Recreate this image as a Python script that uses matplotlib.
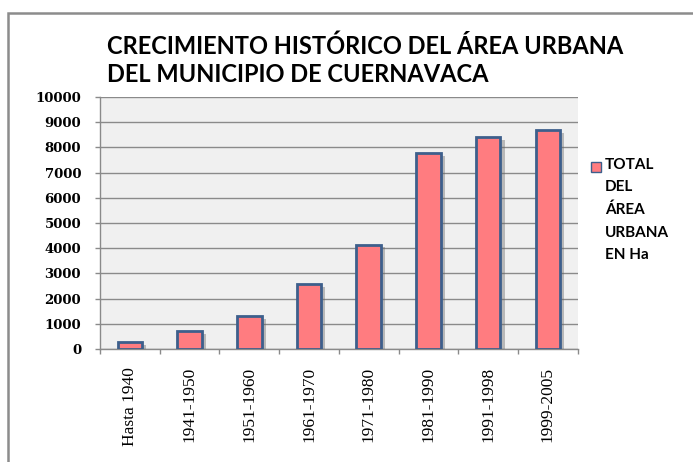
import numpy as np
import matplotlib.pyplot as plt
from matplotlib import patheffects
from matplotlib.patches import Rectangle

# data
periods = ["Hasta 1940", "1941-1950", "1951-1960", "1961-1970",
           "1971-1980", "1981-1990", "1991-1998", "1999-2005"]
area_ha = [280, 720, 1290, 2580, 4140, 7760, 8400, 8700]
series_name = "TOTAL\nDEL\nÁREA\nURBANA\nEN Ha"
title = "CRECIMIENTO HISTÓRICO DEL ÁREA URBANA\nDEL MUNICIPIO DE CUERNAVACA"

W, H = 693, 462
fig = plt.figure(figsize=(W / 100, H / 100), dpi=100)
fig.patch.set_facecolor("white")

# outer chart border (runs off the right and bottom edges)
fig.patches.append(Rectangle((8 / W, -0.1), 1.2, 1 - 13 / H + 0.1,
                             transform=fig.transFigure, fill=False,
                             edgecolor="#8c8c8c", linewidth=1.8))

ax = fig.add_axes([100 / W, 1 - 349 / H, 477.7 / W, 252 / H])
ax.set_facecolor("#f0f0f0")

x = np.arange(len(periods))
bars = ax.bar(x, area_ha, width=0.41, color="#ff7c80",
              edgecolor="#3d5f8c", linewidth=2, zorder=3)
for b in bars:
    b.set_path_effects([patheffects.SimplePatchShadow(offset=(3, -2),
                                                      shadow_rgbFace="#666666",
                                                      alpha=0.4),
                        patheffects.Normal()])

ax.set_xlim(-0.5, len(periods) - 0.5)
ax.set_ylim(0, 10000)
ax.set_yticks(np.arange(0, 10001, 1000))
ax.yaxis.grid(True, color="#8a8a8a", linewidth=1, zorder=0)
ax.set_axisbelow(True)

ax.set_xticks(x)
ax.set_xticklabels(periods, rotation=90, fontsize=12.5,
                   family="Liberation Serif")
ax.set_xticks(np.arange(-0.5, len(periods), 1), minor=True)
ax.tick_params(axis="x", which="major", length=0, pad=13)
ax.tick_params(axis="x", which="minor", length=3.6, color="#8a8a8a", width=1)
ax.tick_params(axis="y", length=3.6, color="#8a8a8a", width=1, pad=10)
for lab in ax.get_yticklabels():
    lab.set_family("DejaVu Serif")
    lab.set_fontweight("bold")
    lab.set_fontsize(9.5)

for side in ["top", "right"]:
    ax.spines[side].set_visible(False)
for side in ["left", "bottom"]:
    ax.spines[side].set_color("#8a8a8a")
    ax.spines[side].set_linewidth(1)

fig.text(107 / W, 1 - 34 / H, title, ha="left", va="top",
         fontsize=17, fontweight="bold", family="Lato", linespacing=1.3)

# legend swatch and label
fig.patches.append(Rectangle((591 / W, 1 - 172 / H), 10 / W, 10 / H,
                             transform=fig.transFigure, facecolor="#ff7c80",
                             edgecolor="#3d5f8c", linewidth=1))
fig.text(605 / W, 1 - 158 / H, series_name, ha="left", va="top",
         fontsize=11, fontweight="bold", family="Lato", linespacing=1.75)

fig.savefig("out.png", dpi=100)
